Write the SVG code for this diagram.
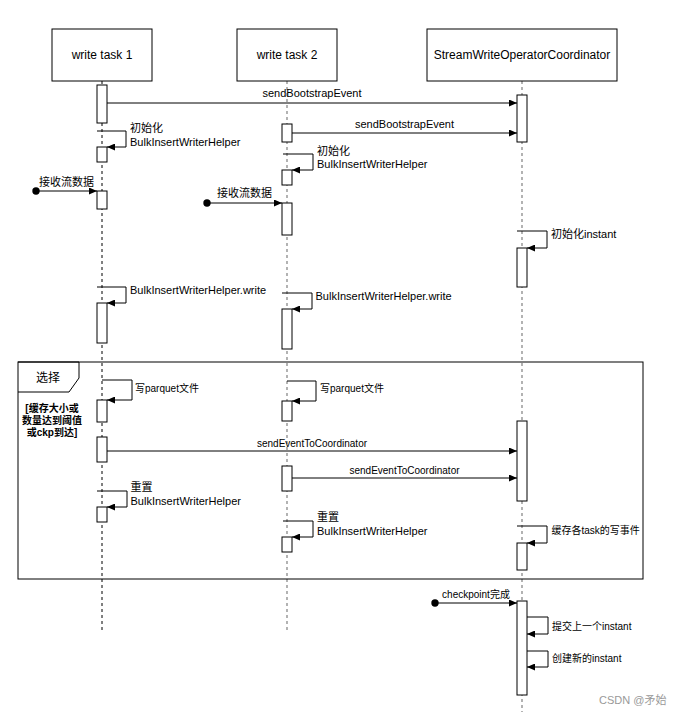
<svg xmlns="http://www.w3.org/2000/svg" width="682" height="716" viewBox="0 0 682 716">
<defs>
<style>
text{font-family:"Liberation Sans",Arial,"Noto Sans CJK SC",sans-serif;fill:#000}
.hd{font-size:12px;text-anchor:middle}
.l11{font-size:11px}
.l10{font-size:10px}
.mid{text-anchor:middle}
.box{fill:#fff;stroke:#000;stroke-width:1}
.act{fill:#fff;stroke:#000;stroke-width:1}
.ll1{stroke:#000;stroke-width:1;stroke-dasharray:3 3;fill:none}
.ll2{stroke:#808080;stroke-width:1.2;stroke-dasharray:3 3;fill:none}
.msg{stroke:#000;stroke-width:1;fill:none;marker-end:url(#ah)}
.frame{fill:none;stroke:#000;stroke-width:1}
</style>
<marker id="ah" viewBox="0 0 8 7" refX="8" refY="3.5" markerWidth="8" markerHeight="7" orient="auto" markerUnits="userSpaceOnUse"><path d="M0,0L8,3.5L0,7z" fill="#000"/></marker>
</defs>
<rect width="682" height="716" fill="#fff"/>

<g id="lifelines">
<path class="ll1" d="M102,81V633"/>
<path class="ll2" d="M287,81V633"/>
<path class="ll2" d="M522,81V712"/>
</g>

<g id="frame-alt">
<rect class="frame" x="18" y="362" width="625" height="217"/>
<path class="frame" d="M18,362H79V378L69,392H18"/>
<text x="48" y="382" font-size="12" text-anchor="middle">选择</text>
<text x="52" y="412" font-size="10" font-weight="bold" text-anchor="middle">[缓存大小或</text>
<text x="52" y="424" font-size="10" font-weight="bold" text-anchor="middle">数量达到阈值</text>
<text x="52" y="436" font-size="10" font-weight="bold" text-anchor="middle">或ckp到达]</text>
</g>

<g id="task1">
<rect class="box" x="52" y="29" width="100" height="52"/>
<text class="hd" x="102" y="59">write task 1</text>
<rect class="act" x="97" y="85" width="10" height="38"/>
<rect class="act" x="97" y="147" width="10" height="15"/>
<rect class="act" x="97" y="191" width="10" height="18"/>
<rect class="act" x="97" y="303" width="10" height="40"/>
<rect class="act" x="97" y="400" width="10" height="22"/>
<rect class="act" x="97" y="437" width="10" height="25"/>
<rect class="act" x="97" y="507" width="10" height="15"/>
</g>

<g id="task2">
<rect class="box" x="237" y="29" width="100" height="52"/>
<text class="hd" x="287" y="59">write task 2</text>
<rect class="act" x="282" y="124" width="10" height="18"/>
<rect class="act" x="282" y="170" width="10" height="15"/>
<rect class="act" x="282" y="203" width="10" height="32"/>
<rect class="act" x="282" y="309" width="10" height="40"/>
<rect class="act" x="282" y="401" width="10" height="20"/>
<rect class="act" x="282" y="466" width="10" height="25"/>
<rect class="act" x="282" y="537" width="10" height="15"/>
</g>

<g id="coordinator">
<rect class="box" x="427" y="29" width="190" height="52"/>
<text class="hd" x="522" y="59">StreamWriteOperatorCoordinator</text>
<rect class="act" x="517" y="95" width="10" height="47"/>
<rect class="act" x="517" y="248" width="10" height="39"/>
<rect class="act" x="517" y="421" width="10" height="80"/>
<rect class="act" x="517" y="543" width="10" height="27"/>
<rect class="act" x="517" y="601" width="10" height="94"/>
</g>

<g id="connectors">
<path class="msg" d="M107,103H517"/>
<text class="l11 mid" x="312" y="97">sendBootstrapEvent</text>
<path class="msg" d="M292,133H517"/>
<text class="l11 mid" x="404.5" y="128">sendBootstrapEvent</text>

<path class="msg" d="M97,131H126V147H107"/>
<text class="l11" x="130" y="131.5">初始化</text>
<text class="l11" x="130" y="145.5">BulkInsertWriterHelper</text>

<circle cx="36" cy="191" r="3.7" fill="#000"/>
<path class="msg" d="M36,191H97"/>
<text class="l11" x="39" y="186">接收流数据</text>

<path class="msg" d="M283,154H313V170H292"/>
<text class="l11" x="317" y="155">初始化</text>
<text class="l11" x="317" y="168">BulkInsertWriterHelper</text>

<circle cx="207" cy="203" r="3.7" fill="#000"/>
<path class="msg" d="M207,203H282"/>
<text class="l11" x="217" y="197">接收流数据</text>

<path class="msg" d="M517,231H547V248H527"/>
<text class="l11" x="551" y="238">初始化instant</text>

<path class="msg" d="M97,287H126V303H107"/>
<text class="l11" x="130" y="294">BulkInsertWriterHelper.write</text>

<path class="msg" d="M282,293H312V309H292"/>
<text class="l11" x="315.5" y="300">BulkInsertWriterHelper.write</text>

<path class="msg" d="M102,380H132V400H107"/>
<text class="l10" x="135" y="392">写parquet文件</text>

<path class="msg" d="M287,381H316V401H292"/>
<text class="l10" x="320" y="392">写parquet文件</text>

<path class="msg" d="M107,451H517"/>
<text class="l10 mid" x="312" y="447">sendEventToCoordinator</text>
<path class="msg" d="M292,478H517"/>
<text class="l10 mid" x="404.5" y="474">sendEventToCoordinator</text>

<path class="msg" d="M97,491H127V507H107"/>
<text class="l11" x="130.5" y="491">重置</text>
<text class="l11" x="130.5" y="505">BulkInsertWriterHelper</text>

<path class="msg" d="M283,521H313V537H292"/>
<text class="l11" x="317" y="521">重置</text>
<text class="l11" x="317" y="535">BulkInsertWriterHelper</text>

<path class="msg" d="M517,526H547V543H527"/>
<text class="l10" x="551.5" y="534">缓存各task的写事件</text>

<circle cx="435" cy="603" r="3.7" fill="#000"/>
<path class="msg" d="M435,603H517"/>
<text class="l10 mid" x="476" y="598">checkpoint完成</text>

<path class="msg" d="M527,617H548V634H527"/>
<text class="l10" x="552" y="630">提交上一个instant</text>
<path class="msg" d="M527,651H548V667H527"/>
<text class="l10" x="552" y="662">创建新的instant</text>
</g>

<text x="599" y="704" font-size="11" style="fill:#999">CSDN @矛始</text>
</svg>
